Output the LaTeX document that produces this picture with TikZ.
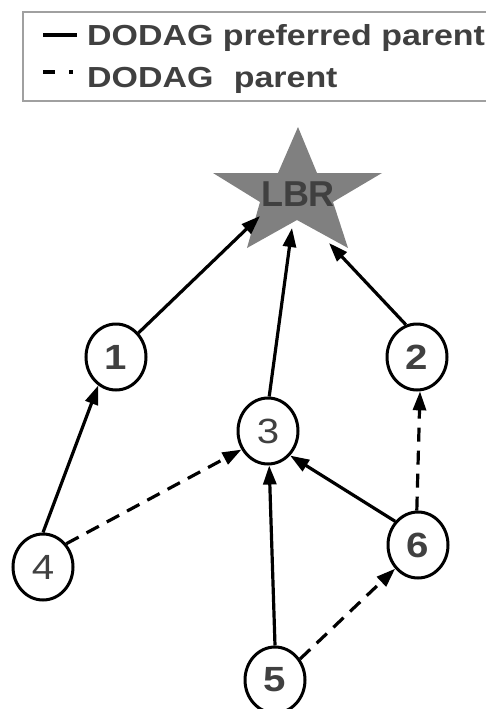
\documentclass[tikz,border=0pt]{standalone}
\usepackage{fontspec}
\setmainfont{Liberation Sans}
\usepackage{graphicx}
\usetikzlibrary{arrows.meta,shapes.geometric}
\definecolor{txt}{RGB}{64,64,64}
\definecolor{stargray}{RGB}{128,128,128}
\definecolor{boxgray}{RGB}{160,160,160}
\newcommand{\sx}[1]{\scalebox{1.15}[1]{#1}}
\newcommand{\sxl}[1]{\scalebox{1.17}[1]{#1}}
\begin{document}
\begin{tikzpicture}[x=1pt,y=-1pt,
  nd/.style={ellipse,draw,line width=3pt,minimum width=60pt,minimum height=66pt,inner sep=0pt,text=txt,font=\fontsize{35}{35}\selectfont},
  pref/.style={line width=3.2pt,-{Triangle[length=19pt,width=13pt]}},
  alt/.style={pref,dash pattern=on 14pt off 9pt},
  legtext/.style={anchor=base west,inner sep=0pt,text=txt,font=\fontsize{29}{29}\selectfont\bfseries}]
\useasboundingbox (0,0) rectangle (486,709);
% legend
\draw[boxgray,line width=1.5pt] (23,12) rectangle (492,101);
\coordinate (l1a) at (43,35);
\coordinate (l1b) at (77,35);
\draw[line width=3.8pt] (l1a) -- (l1b);
\coordinate (l2a) at (43,72);
\coordinate (l2b) at (55,72);
\draw[line width=3.8pt] (l2a) -- (l2b);
\fill (69,70) rectangle (73,74);
\node[legtext] (lg1) at (87,46) {\sxl{DODAG preferred parent}};
\node[legtext] (lg2) at (87,87) {\sxl{DODAG\hspace{0.6em}parent}};
% star
\fill[stargray] (298,127) -- (317,173) -- (382,173) -- (333,202) -- (348,248) -- (297,220) -- (247,248) -- (260,202) -- (213,173) -- (278,173) -- cycle;
\node[text=txt,font=\fontsize{36}{36}\selectfont\bfseries,inner sep=0pt] (lbr) at (298,194) {LBR};
\coordinate (e1) at (260,216);
\coordinate (e3) at (292,228);
\coordinate (e2) at (329,243);
% nodes
\node[nd] (n1) at (116,357) {\sx{\bfseries 1}};
\node[nd] (n2) at (417,357) {\sx{\bfseries 2}};
\node[nd] (n3) at (268,431) {\sx{3}};
\node[nd] (n4) at (43,567) {\sx{4}};
\node[nd] (n6) at (418,545) {\sx{\bfseries 6}};
\node[nd] (n5) at (275,680) {\sx{\bfseries 5}};
% connectors
\draw[pref] (n1.47) -- (e1);
\draw[pref] (n3.88) -- (e3);
\draw[pref] (n2.109) -- (e2);
\draw[pref] (n4.90) -- (n1.238);
\draw[alt] (n4.45) -- (n3.215);
\draw[pref] (n5.90) -- (n3.272);
\draw[pref] (n6.134) -- (n3.312);
\draw[alt] (n6.92) -- (n2.275);
\draw[alt] (n5.40) -- (n6.226);
\end{tikzpicture}
\end{document}
